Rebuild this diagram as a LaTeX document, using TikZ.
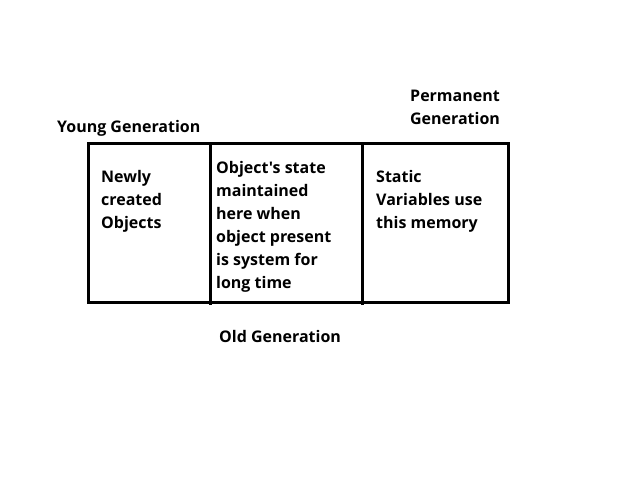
\documentclass[tikz,border=0pt]{standalone}
\usepackage{fontspec}
\setmainfont{Open Sans}[Ligatures=TeXOff]
\begin{document}
\begin{tikzpicture}[x=1pt,y=-1pt,
  lbl/.style={font=\bfseries\fontsize{16}{23}\selectfont, inner sep=0, align=left, anchor=base west},
  wall/.style={line width=3pt}]
\useasboundingbox (0,0) rectangle (627,501);
\coordinate (tl) at (88,143);
\coordinate (br) at (508,302);
\coordinate (d1t) at (210,143);
\coordinate (d1b) at (210,305);
\coordinate (d2t) at (362,143);
\coordinate (d2b) at (362,305);
\draw[wall] (tl) rectangle (br);
\draw[wall] (d1t) -- (d1b);
\draw[wall] (d2t) -- (d2b);
\node[lbl] (young) at (57,132) {Young Generation};
\node[lbl, align=center, anchor=base] (perm) at (455,124) {Permanent\\Generation};
\node[lbl] (new) at (101,228) {Newly\\created\\Objects};
\node[lbl] (old) at (216,288) {Object's state\\maintained\\here when\\object present\\is system for\\long time};
\node[lbl] (stat) at (376,228) {Static\\Variables use\\this memory};
\node[lbl] (oldgen) at (219,342) {Old Generation};
\end{tikzpicture}
\end{document}
